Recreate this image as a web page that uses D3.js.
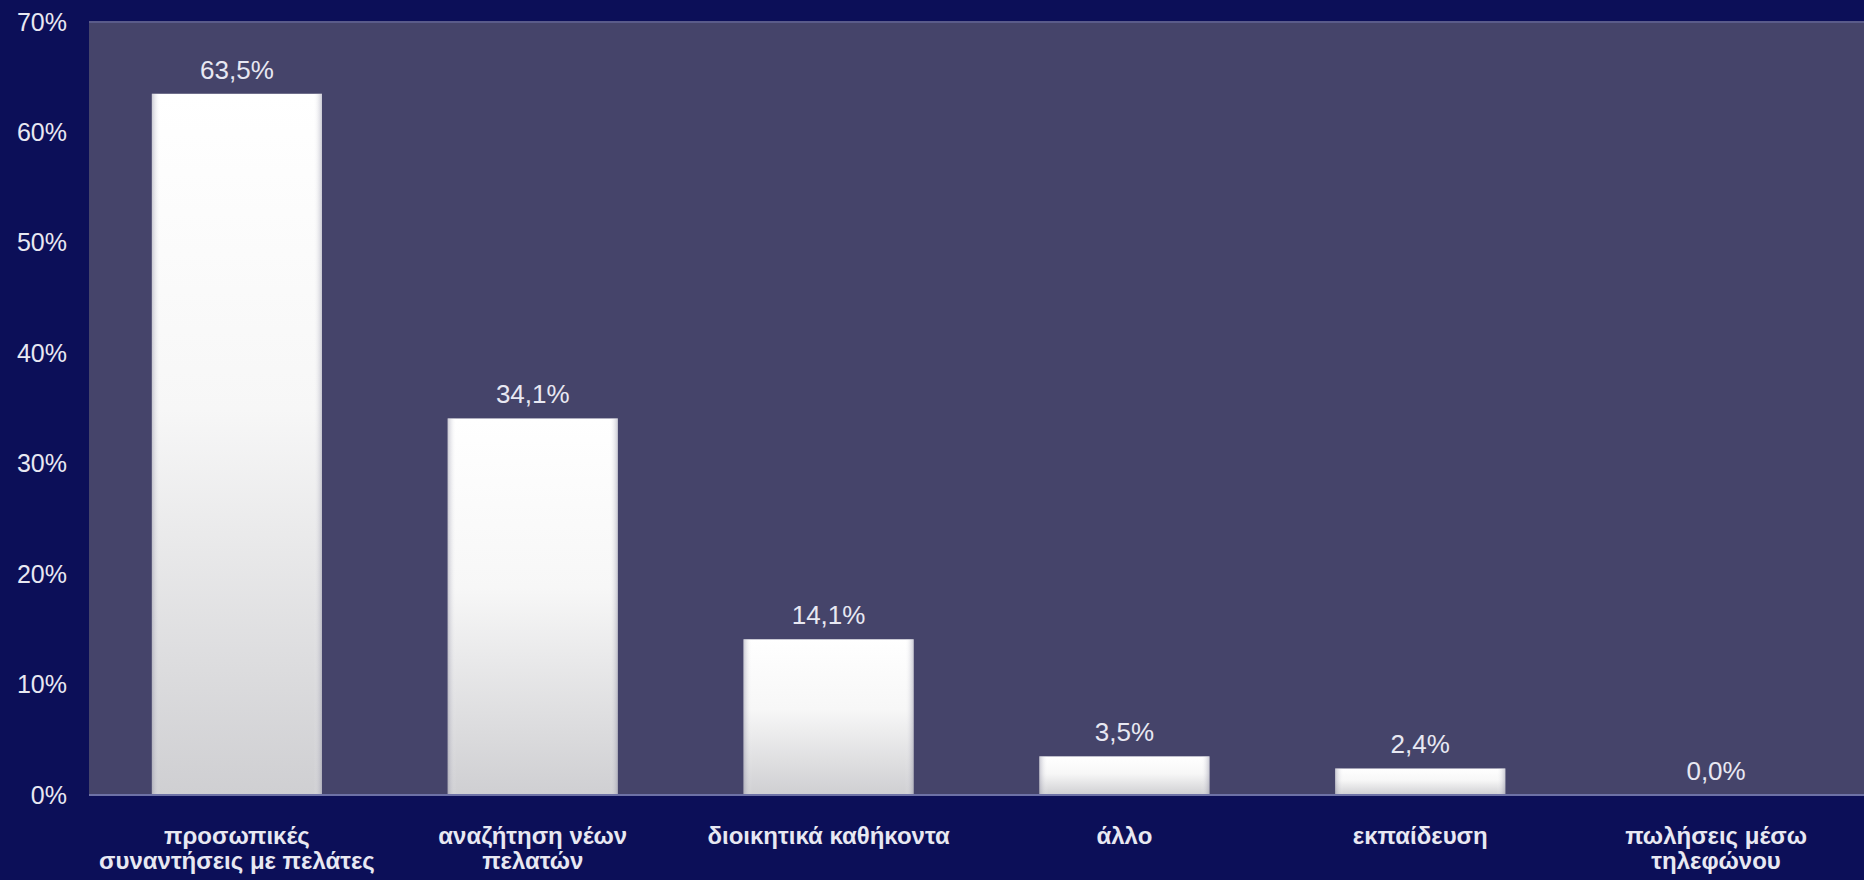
<!DOCTYPE html>
<html>
<head>
<meta charset="utf-8">
<script src="https://cdn.jsdelivr.net/npm/d3@7"></script>
<style>
  body { margin: 0; background: #0c0f58; overflow: hidden; }
  svg { display: block; }
  text { font-family: "Liberation Sans", Arial, sans-serif; fill: #e8e8f2; }
</style>
</head>
<body>
<svg class="chart" width="1864" height="880"></svg>
<script>
// categories (one array of lines per label), values in %, axis ticks
const CATEGORIES = [
  ["προσωπικές", "συναντήσεις με πελάτες"],
  ["αναζήτηση νέων", "πελατών"],
  ["διοικητικά καθήκοντα"],
  ["άλλο"],
  ["εκπαίδευση"],
  ["πωλήσεις μέσω", "τηλεφώνου"]
];
const VALUES = [63.5, 34.1, 14.1, 3.5, 2.4, 0.0];
const TICKS = [0, 10, 20, 30, 40, 50, 60, 70];

const NAVY = "#0c0f58";
const PLOT_BG = "#45446a";

let width = 1864;
let height = 880;
let margin = ({ top: 22, right: 0, bottom: 85, left: 89 });

let data = CATEGORIES.map((c, i) => ({ name: c.join(" "), lines: c, value: VALUES[i] }));

const locale = d3.formatLocale({ decimal: ",", thousands: ".", grouping: [3], currency: ["", "€"] });
const fmtValue = locale.format(".1f");

// scales
let x = d3.scaleBand()
  .domain(data.map(d => d.name))
  .range([margin.left, width - margin.right])
  .paddingInner(0.425)
  .paddingOuter(0.2125);

let y = d3.scaleLinear()
  .domain([0, 70])
  .range([height - margin.bottom, margin.top]);

let svg = d3.select(".chart");

// gradients for the bars
let defs = svg.append("defs");
let vg = defs.append("linearGradient").attr("id", "barFill")
  .attr("x1", 0).attr("y1", 0).attr("x2", 0).attr("y2", 1);
vg.append("stop").attr("offset", "0%").attr("stop-color", "#ffffff");
vg.append("stop").attr("offset", "45%").attr("stop-color", "#f7f7f7");
vg.append("stop").attr("offset", "100%").attr("stop-color", "#cfcfd2");

let hg = defs.append("linearGradient").attr("id", "barEdge")
  .attr("x1", 0).attr("y1", 0).attr("x2", 1).attr("y2", 0);
hg.append("stop").attr("offset", "0%").attr("stop-color", "#8a8aa0").attr("stop-opacity", 0.45);
hg.append("stop").attr("offset", "5%").attr("stop-color", "#ffffff").attr("stop-opacity", 0);
hg.append("stop").attr("offset", "95%").attr("stop-color", "#ffffff").attr("stop-opacity", 0);
hg.append("stop").attr("offset", "100%").attr("stop-color", "#8a8aa0").attr("stop-opacity", 0.45);

// plot background
svg.append("rect")
  .attr("x", margin.left)
  .attr("y", y(70))
  .attr("width", width - margin.right - margin.left)
  .attr("height", y(0) - y(70))
  .attr("fill", PLOT_BG);

svg.append("line")
  .attr("x1", margin.left).attr("x2", width - margin.right)
  .attr("y1", y(70)).attr("y2", y(70))
  .attr("stroke", "#5a5b8a").attr("stroke-width", 2);

// bars
let g = svg.append("g");

g.selectAll("rect.bar")
  .data(data)
  .join("rect")
  .attr("class", "bar")
  .attr("x", d => x(d.name))
  .attr("y", d => y(d.value))
  .attr("width", x.bandwidth())
  .attr("height", d => y(0) - y(d.value))
  .attr("fill", "url(#barFill)");

g.selectAll("rect.edge")
  .data(data)
  .join("rect")
  .attr("class", "edge")
  .attr("x", d => x(d.name))
  .attr("y", d => y(d.value))
  .attr("width", x.bandwidth())
  .attr("height", d => y(0) - y(d.value))
  .attr("fill", "url(#barEdge)");

// value labels
svg.append("g")
  .selectAll("text")
  .data(data)
  .join("text")
  .attr("x", d => x(d.name) + x.bandwidth() / 2)
  .attr("y", d => y(d.value) - 15)
  .attr("text-anchor", "middle")
  .attr("font-size", 26)
  .text(d => fmtValue(d.value) + "%");

// baseline
svg.append("line")
  .attr("x1", margin.left).attr("x2", width - margin.right)
  .attr("y1", y(0)).attr("y2", y(0))
  .attr("stroke", "#6e72a6").attr("stroke-width", 2);

// y axis labels
let yAxis = g => g
  .attr("transform", `translate(${margin.left},0)`)
  .call(d3.axisLeft(y).tickValues(TICKS).tickSize(0).tickPadding(22).tickFormat(d => d + "%"))
  .call(g => g.select(".domain").remove())
  .call(g => g.selectAll("text")
    .attr("font-family", "Liberation Sans, Arial, sans-serif")
    .attr("font-size", 25)
    .attr("fill", "#e8e8f2"));

svg.append("g").call(yAxis);

// category labels
let cat = svg.append("g")
  .selectAll("text")
  .data(data)
  .join("text")
  .attr("x", d => x(d.name) + x.bandwidth() / 2)
  .attr("y", y(0) + 49)
  .attr("text-anchor", "middle")
  .attr("font-weight", "bold")
  .attr("font-size", 24);

cat.selectAll("tspan")
  .data(d => d.lines)
  .join("tspan")
  .attr("x", function () { return this.parentNode.getAttribute("x"); })
  .attr("dy", (d, i) => i === 0 ? 0 : 25)
  .text(d => d);
</script>
</body>
</html>
